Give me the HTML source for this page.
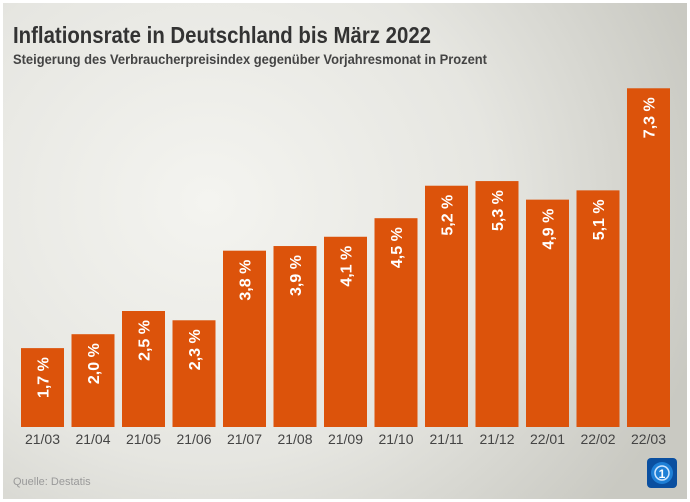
<!DOCTYPE html>
<html><head><meta charset="utf-8"><style>
html,body{margin:0;padding:0}
body{width:690px;height:502px;overflow:hidden;font-family:"Liberation Sans",sans-serif}
#wrap{position:absolute;left:3px;top:3px;width:684px;height:496px;background:radial-gradient(ellipse 75% 95% at 30% 40%,#f4f4f0 0%,#e6e6e1 55%,#c9c9c2 100%)}
</style></head><body>
<div style="position:absolute;inset:0;background:#fff"></div>
<div id="wrap">
<svg width="684" height="496" viewBox="3 3 684 496" style="position:absolute;left:0;top:0">
<text x="13" y="43" font-size="23" font-weight="bold" fill="#333" textLength="418" lengthAdjust="spacingAndGlyphs">Inflationsrate in Deutschland bis März 2022</text>
<text x="13" y="64" font-size="13.5" font-weight="bold" fill="#444" textLength="474" lengthAdjust="spacingAndGlyphs">Steigerung des Verbraucherpreisindex gegenüber Vorjahresmonat in Prozent</text>
<g id="bars"></g>
<text x="13" y="485" font-size="11" fill="#999">Quelle: Destatis</text>
<g>
<rect x="647" y="458" width="30" height="30" rx="4" fill="#0a4fa0"/>
<circle cx="662" cy="473" r="11" fill="#1e7fd6"/>
<circle cx="662" cy="473" r="7" fill="none" stroke="#cfe6ff" stroke-width="1.5"/>
<text x="662" y="478" font-size="12" font-weight="bold" fill="#fff" text-anchor="middle">1</text>
</g>
</svg>
</div>
<script>
const categories=["21/03","21/04","21/05","21/06","21/07","21/08","21/09","21/10","21/11","21/12","22/01","22/02","22/03"];
const values=[1.7,2.0,2.5,2.3,3.8,3.9,4.1,4.5,5.2,5.3,4.9,5.1,7.3];
const labels=["1,7 %","2,0 %","2,5 %","2,3 %","3,8 %","3,9 %","4,1 %","4,5 %","5,2 %","5,3 %","4,9 %","5,1 %","7,3 %"];
const NS="http://www.w3.org/2000/svg";
const base=427, perUnit=46.4, x0=21, pitch=50.5, bw=43;
const xs=i=>x0+i*pitch, ys=v=>base-v*perUnit;
const g=document.getElementById('bars');
categories.forEach((c,i)=>{
  const r=document.createElementNS(NS,'rect');
  
  
  r.setAttribute('x',xs(i));r.setAttribute('y',ys(values[i]));
  r.setAttribute('width',bw);r.setAttribute('height',base-ys(values[i]));
  r.setAttribute('fill','#dc530b');g.appendChild(r);
  const t=document.createElementNS(NS,'text');
  
  
  const cx=xs(i)+bw/2+6, cy=ys(values[i])+9;
  t.setAttribute('transform','translate('+cx+','+cy+') rotate(-90)');
  t.setAttribute('text-anchor','end');t.setAttribute('font-size','16');
  t.setAttribute('font-weight','bold');t.setAttribute('fill','#fff');
  t.textContent=labels[i];g.appendChild(t);
  const l=document.createElementNS(NS,'text');
  
  
  l.setAttribute('x',xs(i)+bw/2);l.setAttribute('y',444);
  l.setAttribute('text-anchor','middle');l.setAttribute('font-size','14');l.setAttribute('fill','#444');
  l.textContent=c;g.appendChild(l);
});
</script>
</body></html>
